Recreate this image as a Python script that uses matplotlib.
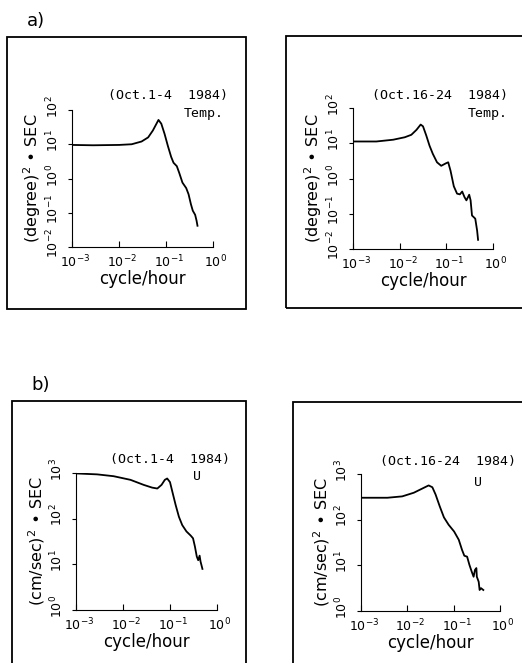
import numpy as np
import matplotlib
matplotlib.use("Agg")
import matplotlib.pyplot as plt
from matplotlib.patches import Rectangle
from matplotlib.transforms import ScaledTranslation

W, H = 522, 663

# log10(frequency, cycle/hour) and log10(spectral density)
temp1_logf = [-3.0, -2.55, -2.0, -1.73, -1.52, -1.38, -1.28, -1.16, -1.10, -1.03, -0.96,
              -0.89, -0.84, -0.77, -0.72, -0.65, -0.57, -0.52, -0.47, -0.43, -0.38, -0.35, -0.33]
temp1_logs = [0.98, 0.97, 0.98, 1.0, 1.08, 1.20, 1.40, 1.71, 1.60, 1.30, 0.95,
              0.63, 0.46, 0.36, 0.17, -0.12, -0.28, -0.46, -0.75, -0.94, -1.06, -1.23, -1.38]

temp2_logf = [-2.96, -2.5, -2.14, -1.89, -1.75, -1.64, -1.55, -1.50, -1.43, -1.36, -1.29, -1.20,
              -1.11, -1.01, -0.96, -0.91, -0.84, -0.77, -0.71, -0.66, -0.61, -0.57, -0.51, -0.48,
              -0.45, -0.41, -0.38, -0.34, -0.32]
temp2_logs = [1.05, 1.05, 1.10, 1.17, 1.24, 1.38, 1.53, 1.48, 1.22, 0.93, 0.70, 0.46,
              0.36, 0.43, 0.46, 0.22, -0.22, -0.43, -0.45, -0.37, -0.53, -0.62, -0.46, -0.62,
              -1.05, -1.10, -1.14, -1.48, -1.74]

u1_logf = [-2.99, -2.55, -2.2, -1.84, -1.56, -1.38, -1.27, -1.18, -1.11, -1.06, -1.0, -0.95,
           -0.88, -0.81, -0.74, -0.65, -0.56, -0.51, -0.47, -0.43, -0.40, -0.37, -0.35, -0.31]
u1_logs = [2.99, 2.97, 2.93, 2.85, 2.74, 2.68, 2.66, 2.74, 2.85, 2.88, 2.80, 2.59,
           2.30, 2.04, 1.86, 1.72, 1.63, 1.57, 1.39, 1.17, 1.09, 1.19, 1.06, 0.90]

u2_logf = [-2.96, -2.43, -2.11, -1.86, -1.68, -1.54, -1.46, -1.39, -1.30, -1.21, -1.11, -0.99,
           -0.89, -0.82, -0.77, -0.71, -0.66, -0.61, -0.57, -0.54, -0.51, -0.50, -0.46, -0.44,
           -0.41, -0.36]
u2_logs = [2.48, 2.48, 2.51, 2.59, 2.68, 2.75, 2.71, 2.55, 2.29, 2.05, 1.89, 1.74,
           1.56, 1.34, 1.21, 1.19, 1.01, 0.86, 0.75, 0.90, 0.94, 0.75, 0.64, 0.46,
           0.50, 0.46]

x_ticks = [1e-3, 1e-2, 1e-1, 1e0]
x_ticklabels = [r"$10^{-3}$", r"$10^{-2}$", r"$10^{-1}$", r"$10^{0}$"]
temp_ticks = [1e-2, 1e-1, 1e0, 1e1, 1e2]
temp_ticklabels = [r"$10^{-2}$", r"$10^{-1}$", r"$10^{0}$", r"$10^{1}$", r"$10^{2}$"]
u_ticks = [1e0, 1e1, 1e2, 1e3]
u_ticklabels = [r"$10^{0}$", r"$10^{1}$", r"$10^{2}$", r"$10^{3}$"]

plt.rcParams['mathtext.default'] = 'regular'
plt.rcParams['font.family'] = ['DejaVu Sans']

fig = plt.figure(figsize=(W / 100, H / 100), dpi=100)


def px_axes(x0, y0, x1, y1):
    return fig.add_axes([x0 / W, 1 - y1 / H, (x1 - x0) / W, (y1 - y0) / H])


def frame(x0, y0, x1, y1):
    fig.add_artist(Rectangle((x0 / W, 1 - y1 / H), (x1 - x0) / W, (y1 - y0) / H,
                             transform=fig.transFigure, fill=False, lw=1.3, ec='black'))


def ftext(x, y, s, **kw):
    fig.text(x / W, 1 - y / H, s, **kw)


def panel(box, logf, logs, yticks, yticklabels, ylabel):
    ax = px_axes(*box)
    ax.plot(np.power(10.0, logf), np.power(10.0, logs), color='black', lw=1.3)
    ax.set_xscale('log')
    ax.set_yscale('log')
    ax.set_xlim(1e-3, 1)
    ax.set_ylim(yticks[0], yticks[-1])
    ax.set_xticks(x_ticks)
    ax.set_xticklabels(x_ticklabels)
    ax.set_yticks(yticks)
    ax.set_yticklabels(yticklabels, rotation=90, va='center')
    ax.minorticks_off()
    ax.spines['top'].set_visible(False)
    ax.spines['right'].set_visible(False)
    ax.tick_params(axis='x', direction='in', length=4, labelsize=9, pad=4.5)
    ax.tick_params(axis='y', direction='out', length=3, labelsize=9, pad=5)
    # the "10" of each label sits on the tick, the exponent hangs past it
    for lab in ax.get_xticklabels():
        lab.set_transform(lab.get_transform() + ScaledTranslation(3 / 100, 0, fig.dpi_scale_trans))
    for lab in ax.get_yticklabels():
        lab.set_transform(lab.get_transform() + ScaledTranslation(0, 3.5 / 100, fig.dpi_scale_trans))
    ax.set_xlabel("cycle/hour", fontsize=12, labelpad=0)
    ax.set_ylabel(ylabel, fontsize=11.5, labelpad=1)
    return ax


# frames around each panel
frame(7, 37, 246, 309)
frame(286, 36, 540, 308)
frame(12, 401, 246, 690)
frame(293, 402, 540, 690)

panel((72, 110, 213, 247), temp1_logf, temp1_logs, temp_ticks, temp_ticklabels,
      r"(degree)$^2$ $\bullet$ SEC")
panel((353, 108, 493, 249), temp2_logf, temp2_logs, temp_ticks, temp_ticklabels,
      r"(degree)$^2$ $\bullet$ SEC")
panel((76, 473, 217, 610), u1_logf, u1_logs, u_ticks, u_ticklabels,
      r"(cm/sec)$^2$ $\bullet$ SEC")
panel((361, 474, 500, 611), u2_logf, u2_logs, u_ticks, u_ticklabels,
      r"(cm/sec)$^2$ $\bullet$ SEC")

mono = dict(family='DejaVu Sans Mono', fontsize=9.5, va='center')
ftext(228, 96, "(Oct.1-4  1984)", ha='right', **mono)
ftext(224, 114, "Temp.", ha='right', **mono)
ftext(508, 95, "(Oct.16-24  1984)", ha='right', **mono)
ftext(508, 113, "Temp.", ha='right', **mono)
ftext(230, 460, "(Oct.1-4  1984)", ha='right', **mono)
ftext(197, 477, "U", ha='center', **mono)
ftext(516, 461, "(Oct.16-24  1984)", ha='right', **mono)
ftext(478, 482, "U", ha='center', **mono)

ftext(36, 21, "a)", ha='center', va='center', fontsize=13)
ftext(41, 385, "b)", ha='center', va='center', fontsize=13)

fig.savefig("out.png", dpi=100, facecolor='white')
